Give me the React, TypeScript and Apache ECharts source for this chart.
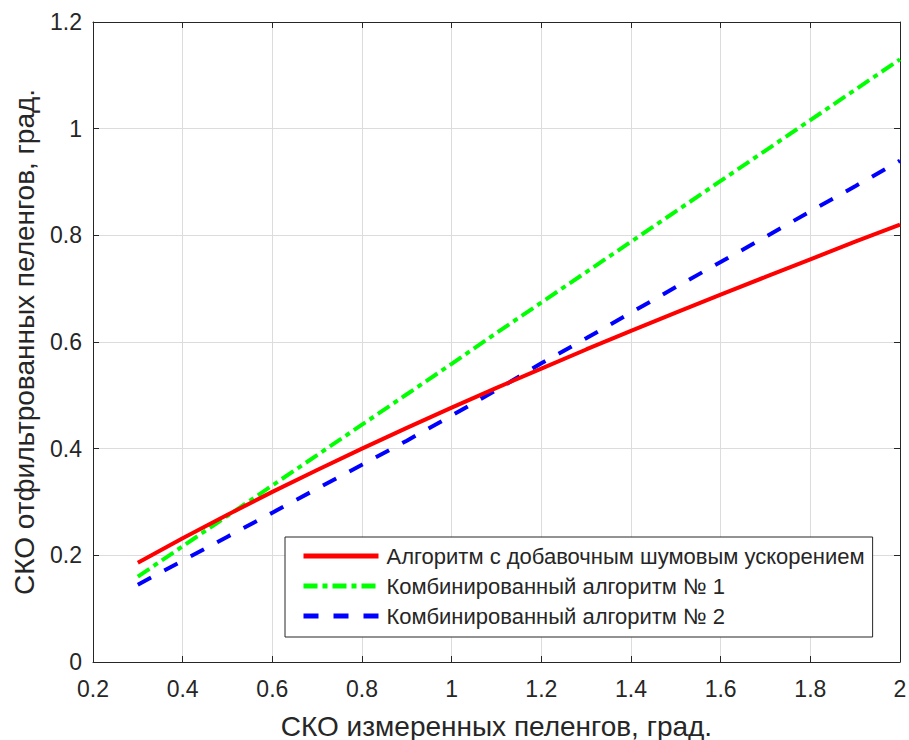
import React, { useEffect, useRef } from "react";
import * as echarts from "echarts";

const xValues = [0.3, 0.4, 0.5, 0.6, 0.7, 0.8, 0.9, 1.0, 1.1, 1.2, 1.3, 1.4, 1.5, 1.6, 1.7, 1.8, 1.9, 2.0];
const redValues = [0.186, 0.232, 0.276, 0.319, 0.36, 0.4, 0.439, 0.477, 0.514, 0.55, 0.586, 0.621, 0.655, 0.689, 0.722, 0.755, 0.788, 0.82];
const greenValues = [0.16, 0.217, 0.274, 0.331, 0.388, 0.445, 0.502, 0.559, 0.617, 0.674, 0.731, 0.788, 0.845, 0.902, 0.959, 1.016, 1.073, 1.13];
const blueValues = [0.145, 0.19, 0.235, 0.28, 0.325, 0.37, 0.415, 0.462, 0.51, 0.56, 0.607, 0.655, 0.703, 0.75, 0.797, 0.845, 0.892, 0.94];
const seriesNames = [
  "Алгоритм с добавочным шумовым ускорением",
  "Комбинированный алгоритм № 1",
  "Комбинированный алгоритм № 2",
];
const xAxisName = "СКО измеренных пеленгов, град.";
const yAxisName = "СКО отфильтрованных пеленгов, град.";

const FONT = "'Liberation Sans', Arial, Helvetica, sans-serif";
const AXIS_COLOR = "#262626";
const GRID_COLOR = "#dcdcdc";

export default function App() {
  const ref = useRef<HTMLDivElement>(null);
  useEffect(() => {
    document.body.style.margin = "0";
    if (!ref.current) return;
    const chart = echarts.init(ref.current, undefined, { renderer: "svg" });
    const pair = (ys: number[]) => xValues.map((x, i) => [x, ys[i]]);
    const fmt = (v: number) => String(+v.toFixed(1));
    const commonX = { type: "value" as const, min: 0.2, max: 2, interval: 0.2 };
    const commonY = { type: "value" as const, min: 0, max: 1.2, interval: 0.2 };
    const axisLine = { show: true, onZero: false, lineStyle: { color: AXIS_COLOR, width: 1 } };
    const axisTick = { show: true, inside: true, length: 6, lineStyle: { color: AXIS_COLOR } };
    chart.setOption({
      animation: false,
      backgroundColor: "#ffffff",
      textStyle: { fontFamily: FONT },
      grid: { left: 93, right: 9, top: 22, bottom: 78, containLabel: false, outerBoundsMode: "none" },
      legend: {
        orient: "vertical",
        left: 285,
        top: 537,
        padding: [8, 8, 10, 16],
        itemGap: 8,
        itemWidth: 75,
        itemHeight: 14,
        backgroundColor: "#ffffff",
        borderColor: AXIS_COLOR,
        borderWidth: 1,
        borderRadius: 0,
        selectedMode: false,
        itemStyle: { opacity: 0 },
        lineStyle: { width: 5 },
        textStyle: { fontSize: 22, color: AXIS_COLOR, fontFamily: FONT, lineHeight: 22, padding: [0, 0, 0, 3] },
        data: seriesNames,
      },
      xAxis: [
        {
          ...commonX,
          position: "bottom",
          name: xAxisName,
          nameLocation: "middle",
          nameGap: 50,
          nameTextStyle: { fontSize: 28, color: AXIS_COLOR, fontFamily: FONT },
          axisLine,
          axisTick,
          axisLabel: { fontSize: 23, color: AXIS_COLOR, margin: 15, formatter: fmt, fontFamily: FONT },
          splitLine: { show: true, lineStyle: { color: GRID_COLOR, width: 1 } },
        },
        {
          ...commonX,
          position: "top",
          axisLine,
          axisTick,
          axisLabel: { show: false },
          splitLine: { show: false },
        },
      ],
      yAxis: [
        {
          ...commonY,
          position: "left",
          name: yAxisName,
          nameLocation: "middle",
          nameGap: 55,
          nameTextStyle: { fontSize: 28, color: AXIS_COLOR, fontFamily: FONT },
          axisLine,
          axisTick,
          axisLabel: { fontSize: 23, color: AXIS_COLOR, margin: 11, formatter: fmt, fontFamily: FONT },
          splitLine: { show: true, lineStyle: { color: GRID_COLOR, width: 1 } },
        },
        {
          ...commonY,
          position: "right",
          axisLine,
          axisTick,
          axisLabel: { show: false },
          splitLine: { show: false },
        },
      ],
      series: [
        {
          name: seriesNames[0],
          type: "line",
          data: pair(redValues),
          showSymbol: false,
          symbol: "none",
          lineStyle: { color: "#ff0000", width: 4, type: "solid" },
          itemStyle: { color: "#ff0000" },
          z: 3,
        },
        {
          name: seriesNames[1],
          type: "line",
          data: pair(greenValues),
          showSymbol: false,
          symbol: "none",
          lineStyle: { color: "#00ff00", width: 4, type: [14, 5, 5, 5] },
          itemStyle: { color: "#00ff00" },
          z: 2,
        },
        {
          name: seriesNames[2],
          type: "line",
          data: pair(blueValues),
          showSymbol: false,
          symbol: "none",
          lineStyle: { color: "#0000ff", width: 4, type: [15, 15] },
          itemStyle: { color: "#0000ff" },
          z: 2,
        },
      ],
    });
    return () => chart.dispose();
  }, []);
  return <div ref={ref} style={{ width: 909, height: 740 }} />;
}
